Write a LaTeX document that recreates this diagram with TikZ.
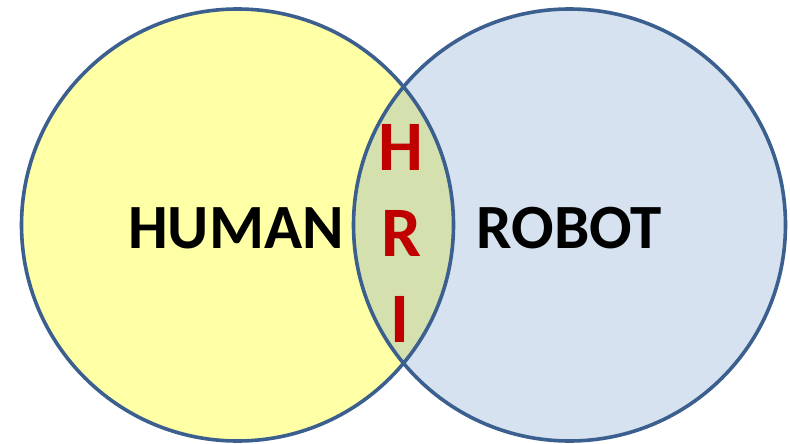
\documentclass[tikz,border=0pt]{standalone}
\usepackage{fontspec}
\setmainfont{Carlito}
\definecolor{edge}{HTML}{3B5F8E}
\definecolor{humanfill}{HTML}{FFFFA6}
\definecolor{robotfill}{HTML}{D6E2F0}
\definecolor{lensfill}{HTML}{D5E0AF}
\definecolor{hrired}{HTML}{C00000}
\tikzset{
  ring/.style={draw=edge, line width=3.6pt},
  bigword/.style={font=\bfseries\fontsize{63}{63}\selectfont, text=black, inner sep=0pt, anchor=center},
  hriletter/.style={font=\bfseries\fontsize{71}{71}\selectfont, text=hrired, inner sep=0pt, anchor=center}
}
\begin{document}
\begin{tikzpicture}[x=1pt,y=-1pt]
\useasboundingbox (0,0) rectangle (790,444);
\coordinate (hc) at (237.5,225);
\coordinate (rc) at (569.5,225);
\fill[humanfill] (hc) circle[radius=216];
\fill[robotfill] (rc) circle[radius=216];
\begin{scope}
  \clip (hc) circle[radius=216];
  \fill[lensfill] (rc) circle[radius=216];
\end{scope}
\draw[ring] (hc) circle[radius=216];
\draw[ring] (rc) circle[radius=216];
\node[bigword] (human) at (236,228) {HUMAN};
\node[bigword] (robot) at (569.5,228) {ROBOT};
\node[hriletter] (h) at (401,147) {H};
\node[hriletter] (r) at (401,233.5) {R};
\node[hriletter] (i) at (400,319.5) {I};
\end{tikzpicture}
\end{document}
